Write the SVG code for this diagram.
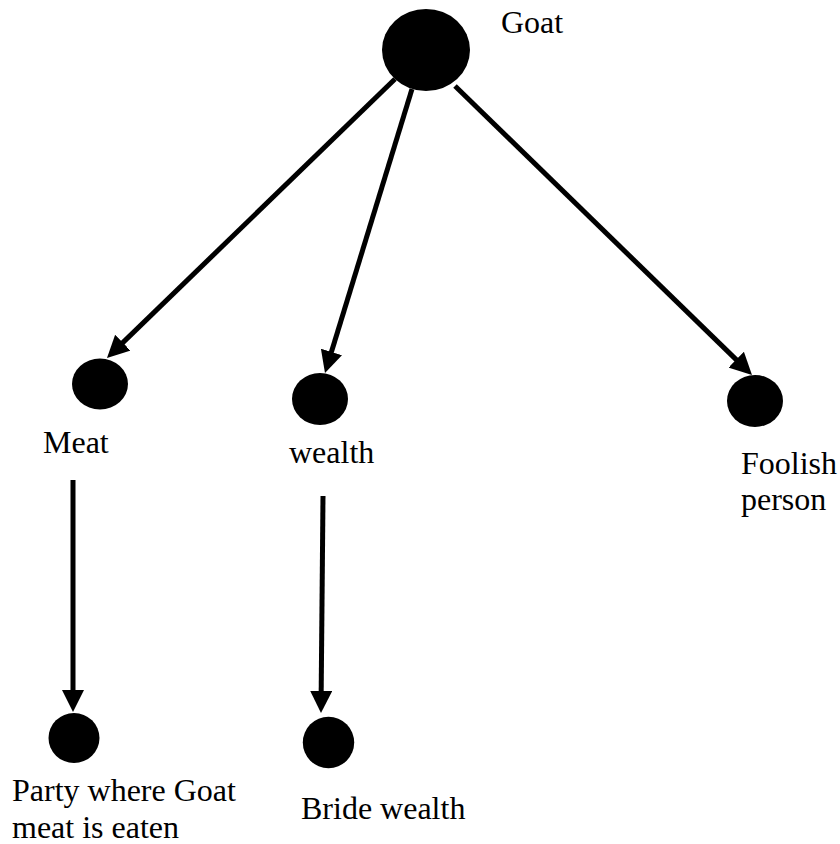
<svg xmlns="http://www.w3.org/2000/svg" width="840" height="844" viewBox="0 0 840 844">
  <style>
    .dot { fill: #000; }
    .label { font-family: "Liberation Serif", "Times New Roman", serif; font-size: 32px; fill: #000; }
    .edge { stroke: #000; stroke-width: 5; fill: none; marker-end: url(#arrow); }
  </style>
  <defs>
    <marker id="arrow" markerUnits="userSpaceOnUse" markerWidth="22" markerHeight="22" refX="10" refY="11" orient="auto" viewBox="0 0 22 22">
      <path d="M0,0 L22,11 L0,22 z" fill="#000"/>
    </marker>
  </defs>
  <rect width="840" height="844" fill="#fff"/>

  <g id="connectors">
    <line class="edge" x1="395" y1="79" x2="115.6" y2="349.6"/>
    <line class="edge" x1="412" y1="89" x2="328.5" y2="361.5"/>
    <line class="edge" x1="455" y1="86" x2="743.4" y2="366.6"/>
    <line class="edge" x1="73" y1="480" x2="73" y2="700"/>
    <line class="edge" x1="323" y1="496" x2="321.1" y2="701"/>
  </g>

  <g id="goat">
    <ellipse class="dot" cx="426" cy="50" rx="44" ry="41"/>
    <text class="label" x="501" y="33">Goat</text>
  </g>
  <g id="meat">
    <ellipse class="dot" cx="100" cy="384" rx="28" ry="25.5"/>
    <text class="label" x="43" y="453">Meat</text>
  </g>
  <g id="wealth">
    <ellipse class="dot" cx="320" cy="399" rx="28" ry="26"/>
    <text class="label" x="289" y="463">wealth</text>
  </g>
  <g id="foolish-person">
    <ellipse class="dot" cx="755" cy="401" rx="28" ry="26"/>
    <text class="label" x="741" y="474">Foolish</text>
    <text class="label" x="741" y="510">person</text>
  </g>
  <g id="party">
    <ellipse class="dot" cx="74" cy="738" rx="25.5" ry="25"/>
    <text class="label" x="12" y="801">Party where Goat</text>
    <text class="label" x="12" y="838">meat is eaten</text>
  </g>
  <g id="bride-wealth">
    <ellipse class="dot" cx="328.5" cy="742.5" rx="25.7" ry="25.7"/>
    <text class="label" x="301" y="819">Bride wealth</text>
  </g>
</svg>
